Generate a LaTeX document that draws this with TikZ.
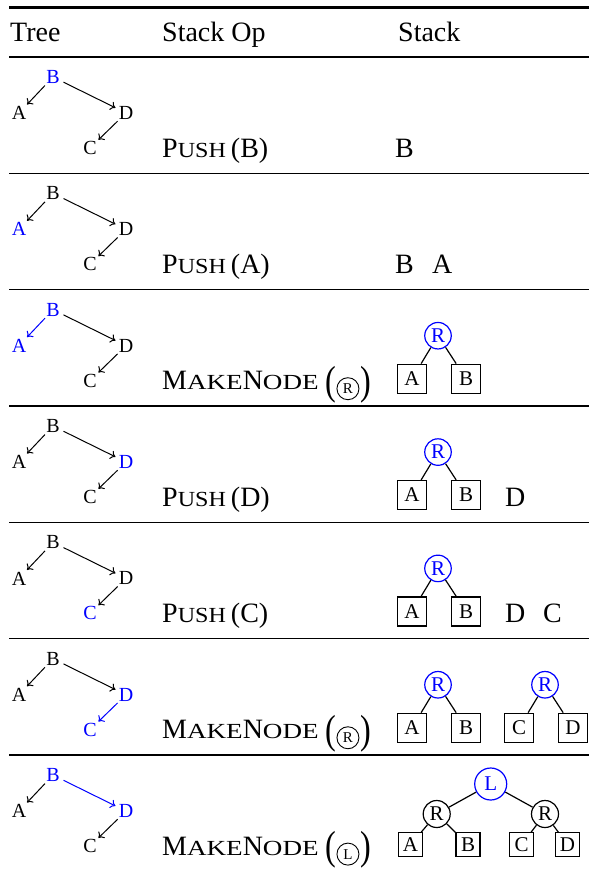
\documentclass[tikz,border=0pt]{standalone}
\usepackage{fontspec}
\setmainfont{Liberation Serif}
\usetikzlibrary{arrows.meta}
\newcommand\sctext[3][1.22]{#2{\fontsize{21.5}{21.5}\selectfont\scalebox{#1}[1]{#3}}}
\newcommand\mytree[9]{%
  \node[lbl,text=#3] (B#1) at (53,#2+20) {B};
  \node[lbl,text=#4] (A#1) at (19,#2+56) {A};
  \node[lbl,text=#5] (D#1) at (126,#2+56) {D};
  \node[lbl,text=#6] (C#1) at (90,#2+91) {C};
  \draw[edge,draw=#7] (B#1) -- (A#1);
  \draw[edge,draw=#8] (B#1) -- (D#1);
  \draw[edge,draw=#9] (D#1) -- (C#1);
}
\newcommand\stree[6]{%
  \node[scirc,draw=#6,text=#6] (R#1) at (#2,#3+46) {R};
  \node[sbox] (L#1) at (#2-26,#3+89) {#4};
  \node[sbox] (Q#1) at (#2+28,#3+89) {#5};
  \draw[sline] (R#1) -- (L#1);
  \draw[sline] (R#1) -- (Q#1);
}
\newcommand\makenode[3]{% id, y0, letter
  \node[main] (op#1) at (162,#2+100) {\sctext[1.26]{M}{AKE}\sctext[1.26]{N}{ODE}};
  \node[bigpar,anchor=west] (lp#1) at ([xshift=6pt]op#1.base east |- 0,#2+95) {\scalebox{1.15}[1.45]{(}};
  \node[ocirc,anchor=west] (oc#1) at ([xshift=0.5pt]lp#1.east |- 0,#2+99) {#3};
  \node[bigpar,anchor=west] (rp#1) at ([xshift=0.5pt]oc#1.east |- 0,#2+95) {\scalebox{1.15}[1.45]{)}};
}
\begin{document}
\begin{tikzpicture}[x=1pt,y=-1pt,
  lbl/.style={font=\fontsize{20}{20}\selectfont, shape=circle, inner sep=0pt, minimum size=23pt},
  edge/.style={-{To[length=5pt,width=9pt]}, line width=1pt},
  main/.style={font=\fontsize{28}{28}\selectfont, inner sep=0pt, anchor=base west},
  bigpar/.style={font=\fontsize{28}{28}\selectfont, inner sep=0pt},
  ocirc/.style={draw, circle, line width=0.9pt, minimum size=22pt, inner sep=0pt, font=\fontsize{15}{15}\selectfont},
  sbox/.style={draw, line width=1.2pt, minimum size=29pt, inner sep=0pt, font=\fontsize{21}{21}\selectfont},
  scirc/.style={draw, circle, line width=1.2pt, minimum size=26.5pt, inner sep=0pt, font=\fontsize{21}{21}\selectfont},
  sline/.style={line width=1.2pt},
  rulethick/.style={line width=2.2pt},
  rulethin/.style={line width=1.4pt},
]
\useasboundingbox (0,0) rectangle (589,870);
% rules
\draw[rulethick] (9,7.5) -- (589,7.5);
\draw[rulethick] (9,57) -- (589,57);
\foreach \yy in {173.35,289.7,406.05,522.4,638.75,755.1}
  \draw[rulethin] (9,\yy) -- (589,\yy);
% header
\node[main] (hTree) at (10,41) {Tree};
\node[main] (hOp) at (162,41) {Stack Op};
\node[main] (hStack) at (398,41) {Stack};
% row 1
\mytree{1}{57}{blue}{black}{black}{black}{black}{black}{black}
\node[main] (op1) at (162,157) {\sctext[1.12]{P}{USH}\hspace{5pt}(B)};
\node[main] (s1B) at (395,157) {B};
% row 2
\mytree{2}{173.35}{black}{blue}{black}{black}{black}{black}{black}
\node[main] (op2) at (162,273.35) {\sctext[1.12]{P}{USH}\hspace{5pt}(A)};
\node[main] (s2B) at (395,273.35) {B};
\node[main] (s2A) at (432,273.35) {A};
% row 3
\mytree{3}{289.7}{blue}{blue}{black}{black}{blue}{black}{black}
\makenode{3}{289.7}{R}
\stree{3}{438}{289.7}{A}{B}{blue}
% row 4
\mytree{4}{406.05}{black}{black}{blue}{black}{black}{black}{black}
\node[main] (op4) at (162,506.05) {\sctext[1.12]{P}{USH}\hspace{5pt}(D)};
\stree{4}{438}{406.05}{A}{B}{blue}
\node[main] (s4D) at (505,506.05) {D};
% row 5
\mytree{5}{522.4}{black}{black}{black}{blue}{black}{black}{black}
\node[main] (op5) at (162,622.4) {\sctext[1.12]{P}{USH}\hspace{5pt}(C)};
\stree{5}{438}{522.4}{A}{B}{blue}
\node[main] (s5D) at (505,622.4) {D};
\node[main] (s5C) at (543,622.4) {C};
% row 6
\mytree{6}{638.75}{black}{black}{blue}{blue}{black}{black}{blue}
\makenode{6}{638.75}{R}
\stree{6}{438}{638.75}{A}{B}{blue}
\stree{6b}{545}{638.75}{C}{D}{blue}
% row 7
\mytree{7}{755.1}{blue}{black}{blue}{black}{black}{blue}{black}
\makenode{7}{755.1}{L}
\node[scirc,minimum size=32pt,draw=blue,text=blue] (T7) at (490.7,784) {L};
\node[scirc,minimum size=27pt] (R7a) at (436.7,814) {R};
\node[scirc,minimum size=27pt] (R7b) at (545,814) {R};
\node[sbox,minimum size=24pt] (A7) at (410.5,844.7) {A};
\node[sbox,minimum size=24pt] (B7) at (468,844.7) {B};
\node[sbox,minimum size=24pt] (C7) at (521.5,844.7) {C};
\node[sbox,minimum size=24pt] (D7) at (567.5,844.7) {D};
\draw[sline] (T7) -- (R7a);
\draw[sline] (T7) -- (R7b);
\draw[sline] (R7a) -- (A7);
\draw[sline] (R7a) -- (B7);
\draw[sline] (R7b) -- (C7);
\draw[sline] (R7b) -- (D7);
\end{tikzpicture}
\end{document}
